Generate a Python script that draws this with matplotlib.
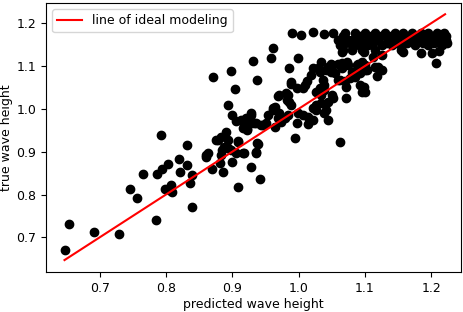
import numpy as np
import matplotlib
matplotlib.use('Agg')
import matplotlib.pyplot as plt

# predicted vs true wave height
pred = [0.647, 0.654, 0.692, 0.729, 0.785, 0.746, 0.757, 0.765, 0.786, 0.794,
        0.803, 0.819, 0.821, 0.832, 0.832, 0.839, 0.836, 0.799, 0.807, 0.809,
        0.804, 0.840, 0.793,
        0.863, 0.861, 0.860, 0.875, 0.870, 0.883, 0.882, 0.886, 0.891, 0.898,
        0.899, 0.908, 0.918, 0.909, 0.929, 0.936, 0.942, 0.883, 0.890, 0.894,
        0.887, 0.893, 0.900, 0.906, 0.913, 0.922, 0.928, 0.928, 0.936, 0.946,
        0.954, 0.922, 0.908, 0.939, 0.916, 0.878, 0.893, 0.885, 0.905, 0.916,
        0.936, 0.938, 0.923,
        0.871, 0.898, 0.904, 0.932, 0.937, 0.961, 0.959, 0.985, 0.999, 0.988,
        0.988,
        0.990, 1.004, 1.022, 1.039, 1.052,
        0.997, 1.007, 1.012, 1.019, 1.022, 1.034, 1.042, 1.050, 1.065, 1.075,
        1.080, 1.088, 1.096, 1.103, 1.093, 1.095, 1.037, 1.039, 1.060, 1.070,
        1.027, 1.034, 1.039, 1.050, 1.052, 1.071, 0.971, 0.984, 0.986, 0.989,
        0.964, 0.961, 0.999, 1.007, 1.014, 1.022, 1.027, 1.027, 1.034, 1.039,
        1.045, 0.997, 1.014, 0.964, 0.951, 0.943, 0.933, 0.928, 0.921, 0.916,
        0.979, 0.974, 0.984, 0.995, 1.062, 0.969, 0.981, 0.983, 0.961, 0.971,
        0.969, 1.009, 1.029, 1.033, 1.045, 1.042, 1.022, 1.045, 1.032, 1.072,
        1.062, 1.098, 1.100, 1.118, 1.077, 1.085, 1.093, 1.055, 1.047,
        1.065, 1.080, 1.096, 1.113, 1.126, 1.115, 1.098, 1.154, 1.158, 1.184,
        1.201, 1.212, 1.207, 1.060, 1.073, 1.065, 1.100, 1.115, 1.100, 1.049,
        1.049, 1.120, 1.126, 1.090, 1.067, 1.070, 1.080, 1.085, 1.095,
        1.070, 1.085, 1.100, 1.115, 1.131, 1.146, 1.158, 1.171, 1.184, 1.196,
        1.209, 1.219,
        1.060, 1.075, 1.090, 1.105, 1.120, 1.136, 1.151, 1.166, 1.181, 1.196,
        1.212, 1.222,
        1.062, 1.080, 1.105, 1.126, 1.141, 1.156, 1.176, 1.196, 1.217,
        1.067, 1.092, 1.110, 1.125, 1.140, 1.160, 1.175, 1.190, 1.205, 1.222,
        1.068, 1.095, 1.112, 1.133, 1.148, 1.163, 1.188, 1.205, 1.224]
true = [0.670, 0.731, 0.712, 0.709, 0.740, 0.813, 0.791, 0.848, 0.848, 0.859,
        0.871, 0.882, 0.852, 0.916, 0.869, 0.846, 0.828, 0.814, 0.822, 0.807,
        0.811, 0.770, 0.938,
        0.898, 0.888, 0.892, 0.927, 0.859, 0.892, 0.873, 0.853, 0.912, 0.904,
        0.877, 0.923, 0.896, 0.818, 0.865, 0.896, 0.836, 0.935, 0.947, 0.927,
        0.912, 1.009, 0.986, 0.972, 0.974, 0.974, 0.991, 0.966, 0.968, 0.962,
        0.986, 0.952, 0.926, 0.917, 0.970, 0.927, 0.908, 0.904, 0.896, 0.896,
        0.900, 0.920, 0.951,
        1.074, 1.089, 1.047, 1.113, 1.067, 1.142, 1.118, 1.095, 1.118, 1.063,
        1.057,
        1.177, 1.173, 1.179, 1.174, 1.177,
        1.048, 1.048, 1.064, 1.079, 1.095, 1.110, 1.091, 1.102, 1.107, 1.103,
        1.087, 1.103, 1.110, 1.091, 1.056, 1.040, 1.068, 1.056, 1.068, 1.064,
        1.040, 1.032, 1.044, 1.032, 1.025, 1.025, 1.032, 1.032, 1.017, 1.009,
        1.005, 0.997, 0.990, 0.986, 0.982, 1.001, 1.009, 0.997, 1.013, 0.990,
        1.017, 0.966, 0.965, 0.958, 0.966, 0.962, 0.966, 0.986, 0.978, 0.955,
        0.978, 0.970, 0.986, 0.933, 0.922, 1.030, 1.036, 1.021, 1.001, 0.990,
        0.978, 1.056, 1.095, 1.087, 1.099, 0.997, 0.974, 0.974, 1.048, 1.052,
        1.068, 1.052, 1.040, 1.077, 1.072, 1.075, 1.083, 1.083, 1.099,
        1.134, 1.138, 1.138, 1.122, 1.126, 1.138, 1.134, 1.138, 1.134, 1.130,
        1.130, 1.136, 1.108, 1.106, 1.110, 1.095, 1.102, 1.099, 1.091, 1.106,
        1.087, 1.099, 1.091, 1.106, 1.138, 1.153, 1.161, 1.149, 1.142,
        1.177, 1.177, 1.177, 1.177, 1.177, 1.177, 1.177, 1.177, 1.177, 1.177,
        1.177, 1.177,
        1.161, 1.161, 1.161, 1.161, 1.161, 1.161, 1.161, 1.161, 1.161, 1.161,
        1.161, 1.161,
        1.149, 1.149, 1.149, 1.149, 1.149, 1.149, 1.149, 1.149, 1.149,
        1.170, 1.170, 1.170, 1.170, 1.170, 1.170, 1.170, 1.170, 1.170, 1.170,
        1.155, 1.155, 1.155, 1.155, 1.155, 1.155, 1.155, 1.155, 1.155]

# ideal line end points
line_lo, line_hi = 0.647, 1.221

plt.rcParams['font.size'] = 9
fig = plt.figure(figsize=(4.64, 3.12), dpi=100)
plt.subplots_adjust(left=0.099, right=0.9935, top=0.99, bottom=0.128)
plt.scatter(pred, true, c='black', s=36)
plt.plot([line_lo, line_hi], [line_lo, line_hi], color='red', label='line of ideal modeling')
plt.xlim(0.619, 1.245)
plt.ylim(0.619, 1.247)
plt.xlabel('predicted wave height', labelpad=2.5)
plt.ylabel('true wave height', labelpad=2.5)
plt.legend(loc='upper left')
plt.savefig('out.png', dpi=100)
